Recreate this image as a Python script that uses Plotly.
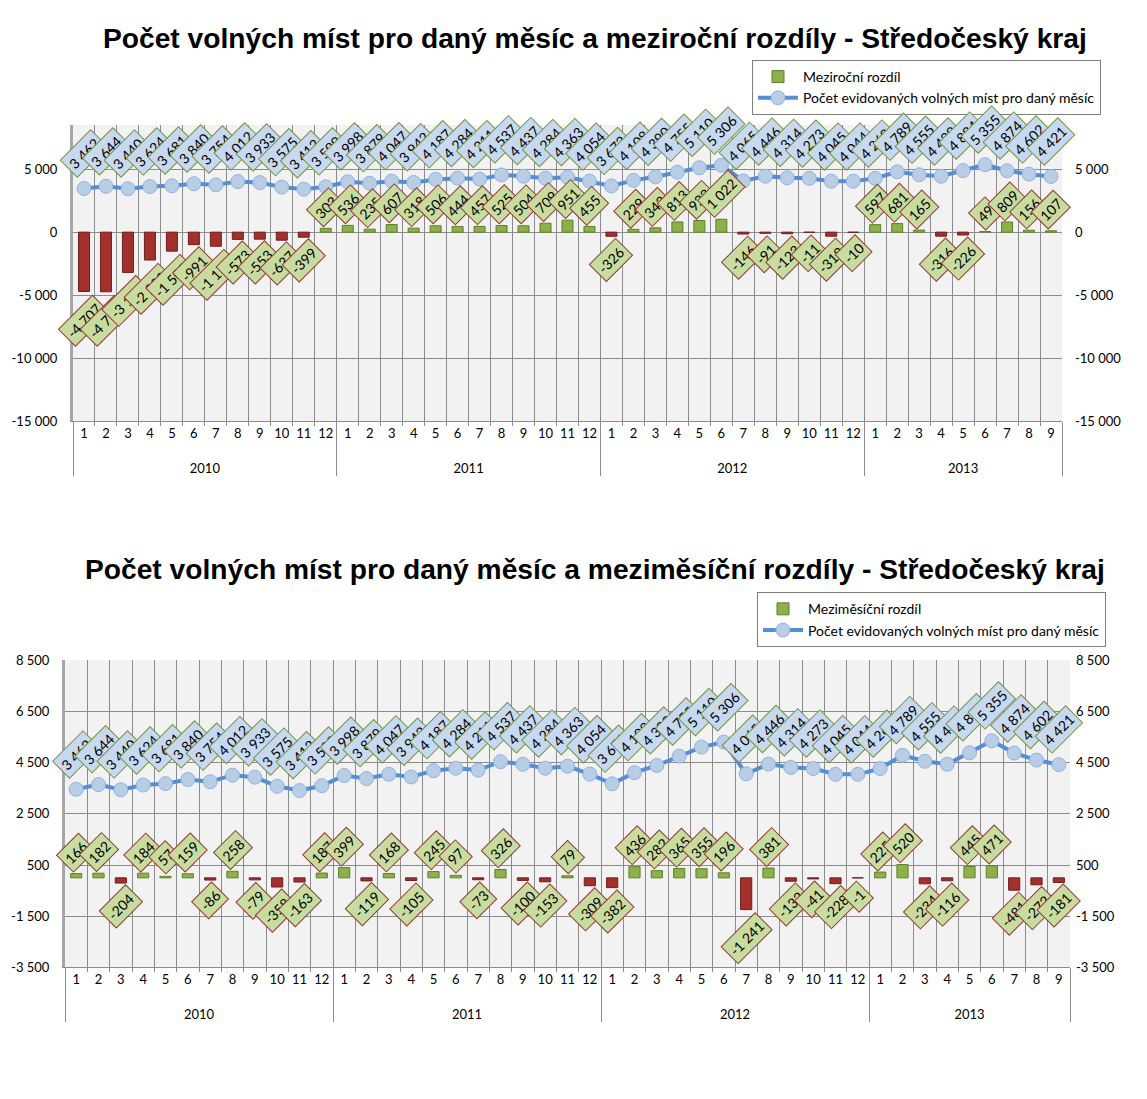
import plotly.graph_objects as go

# ---------------- data ----------------
years = ["<br>2010"] * 12 + ["<br>2011"] * 12 + ["<br>2012"] * 12 + ["<br>2013"] * 9
months = [str(m) for m in list(range(1, 13)) * 3 + list(range(1, 10))]

count = [3462, 3644, 3440, 3624, 3681, 3840, 3754, 4012, 3933, 3575, 3412, 3599,
         3998, 3879, 4047, 3942, 4187, 4284, 4211, 4537, 4437, 4284, 4363, 4054,
         3672, 4108, 4390, 4755, 5110, 5306, 4065, 4446, 4314, 4273, 4045, 4044,
         4269, 4789, 4555, 4439, 4884, 5355, 4874, 4602, 4421]

yoy = [-4707, -4731, -3195, -2209, -1505, -991, -1116, -573, -553, -637, -399, 303,
       536, 235, 607, 318, 506, 444, 457, 525, 504, 709, 951, 455,
       -326, 229, 343, 813, 923, 1022, -146, -91, -123, -11, -318, -10,
       597, 681, 165, -316, -226, 49, 809, 156, 107]

mom = [166, 182, -204, 184, 57, 159, -86, 258, -79, -358, -163, 187,
       399, -119, 168, -105, 245, 97, -73, 326, -100, -153, 79, -309,
       -382, 436, 282, 365, 355, 196, -1241, 381, -132, -41, -228, -1,
       225, 520, -234, -116, 445, 471, -481, -272, -181]

title_top = "Počet volných míst pro daný měsíc a meziroční rozdíly - Středočeský kraj"
title_bot = "Počet volných míst pro daný měsíc a meziměsíční rozdíly - Středočeský kraj"
name_yoy = "Meziroční rozdíl"
name_mom = "Meziměsíční rozdíl"
name_cnt = "Počet evidovaných volných míst pro daný měsíc"

ticks_top = [-15000, -10000, -5000, 0, 5000]
ticks_bot = [-3500, -1500, 500, 2500, 4500, 6500, 8500]
range_top = [-15000, 8500]
range_bot = [-3500, 8500]

# ---------------- style ----------------
W, H = 1147, 1099
X_OFF, Y_OFF, Y_SCALE = 8.0, 16.0, 0.985


def fx(px):
    return (px - X_OFF) / W


def fy(px):
    return 1 - (px - Y_OFF) / Y_SCALE / H


FONT = "Lato"
GREEN = "#8db14a"
GREEN_L = "#5f7f26"
RED = "#a3302d"
RED_L = "#6e1f1d"
LINE = "#558ed5"
PLOT_BG = "#f2f2f2"
GRID = "#8c8c8c"
LBL_SIZE = 14


def fmt(v):
    s = f"{abs(v):,}".replace(",", " ")
    return ("-" if v < 0 else "") + s


def tick_text(vals):
    return [fmt(v) for v in vals]


def diag_shift(txt):
    w = 7.2 * len(txt) + 10
    h = 22
    return (w + h) / 2.83 + 2


fig = go.Figure()
xcat = [years, months]

panels = [
    dict(diff=yoy, name=name_yoy, x="x", y="y", y2="y2", legend="legend"),
    dict(diff=mom, name=name_mom, x="x2", y="y3", y2="y4", legend="legend2"),
]

annotations = []
for p in panels:
    diff = p["diff"]
    pos = [v if v >= 0 else None for v in diff]
    neg = [v if v < 0 else None for v in diff]
    fig.add_trace(go.Bar(x=xcat, y=pos, name=p["name"], xaxis=p["x"], yaxis=p["y"],
                         marker=dict(color=GREEN, line=dict(color=GREEN_L, width=1)),
                         legend=p["legend"], legendrank=1))
    fig.add_trace(go.Bar(x=xcat, y=neg, name=p["name"], xaxis=p["x"], yaxis=p["y"],
                         marker=dict(color=RED, line=dict(color=RED_L, width=1)),
                         showlegend=False, legend=p["legend"]))
    fig.add_trace(go.Scatter(x=xcat, y=count, name=name_cnt, xaxis=p["x"], yaxis=p["y2"],
                             mode="lines+markers",
                             line=dict(color=LINE, width=4),
                             marker=dict(size=14, color="#b9cde5",
                                         line=dict(color="#8eb4e3", width=1)),
                             legend=p["legend"], legendrank=2))
    for i, v in enumerate(diff):
        t = fmt(v)
        sh = diag_shift(t)
        annotations.append(dict(
            x=i, y=v, xref=p["x"], yref=p["y"], text=t, showarrow=False,
            textangle=-45, yshift=sh if v >= 0 else -sh,
            bgcolor="#c9dca0", bordercolor="#953735", borderwidth=1, borderpad=3,
            font=dict(family=FONT, size=LBL_SIZE, color="#000000")))
    for i, v in enumerate(count):
        t = fmt(v)
        sh = diag_shift(t) + 9
        annotations.append(dict(
            x=i, y=v, xref=p["x"], yref=p["y2"], text=t, showarrow=False,
            textangle=-45, yshift=sh,
            bgcolor="#c6d9f1", bordercolor="#77933c", borderwidth=1, borderpad=3,
            font=dict(family=FONT, size=LBL_SIZE, color="#000000")))

for t, yy in [(title_top, 38), (title_bot, 569)]:
    annotations.append(dict(text=f"<b>{t}</b>", x=fx(595), y=fy(yy),
                            xref="paper", yref="paper", showarrow=False,
                            xanchor="center", yanchor="middle",
                            font=dict(family="Liberation Sans", size=28.2, color="#000000")))

xcommon = dict(type="multicategory", range=[-0.5, len(months) - 0.5], autorange=False,
               showgrid=True, gridcolor=GRID, gridwidth=1,
               tickson="boundaries", ticks="outside", ticklen=4, tickcolor=GRID,
               tickangle=0,
               showdividers=True, dividercolor=GRID, dividerwidth=1,
               showline=True, linecolor=GRID, mirror=False,
               tickfont=dict(family=FONT, size=13, color="#000000"))


def ycommon(vals, rng, side, standoff):
    return dict(range=rng, autorange=False, tickvals=vals, ticktext=tick_text(vals),
                showgrid=True, gridcolor=GRID, gridwidth=1, zeroline=False, side=side,
                showline=(side == "left"), linecolor="#a6a6a6", linewidth=3,
                tickfont=dict(family=FONT, size=13, color="#000000"),
                ticks="", ticklabelstandoff=standoff, fixedrange=True)


legend_common = dict(xanchor="left", yanchor="top", bgcolor="#ffffff",
                     bordercolor="#7f7f7f", borderwidth=1,
                     font=dict(family=FONT, size=14, color="#000000"),
                     tracegroupgap=2, itemwidth=40, traceorder="normal")

fig.update_layout(
    width=W, height=H,
    margin=dict(l=0, r=0, t=0, b=0),
    paper_bgcolor="#ffffff",
    plot_bgcolor=PLOT_BG,
    barmode="relative",
    bargap=0.5,
    font=dict(family=FONT, size=13, color="#000000"),
    xaxis=dict(domain=[fx(73), fx(1062)], anchor="y", **xcommon),
    yaxis=dict(domain=[fy(421), fy(125)], anchor="x",
               **ycommon(ticks_top, range_top, "left", 10)),
    yaxis2=dict(overlaying="y", anchor="x",
                **ycommon(ticks_top, range_top, "right", 12)),
    xaxis2=dict(domain=[fx(65), fx(1070)], anchor="y3", **xcommon),
    yaxis3=dict(domain=[fy(967), fy(660)], anchor="x2",
                **ycommon(ticks_bot, range_bot, "left", 10)),
    yaxis4=dict(overlaying="y3", anchor="x2",
                **ycommon(ticks_bot, range_bot, "right", 5)),
    legend=dict(x=fx(752), y=fy(60), **legend_common),
    legend2=dict(x=fx(757), y=fy(592), **legend_common),
    annotations=annotations,
)

fig.write_html("out.html")
